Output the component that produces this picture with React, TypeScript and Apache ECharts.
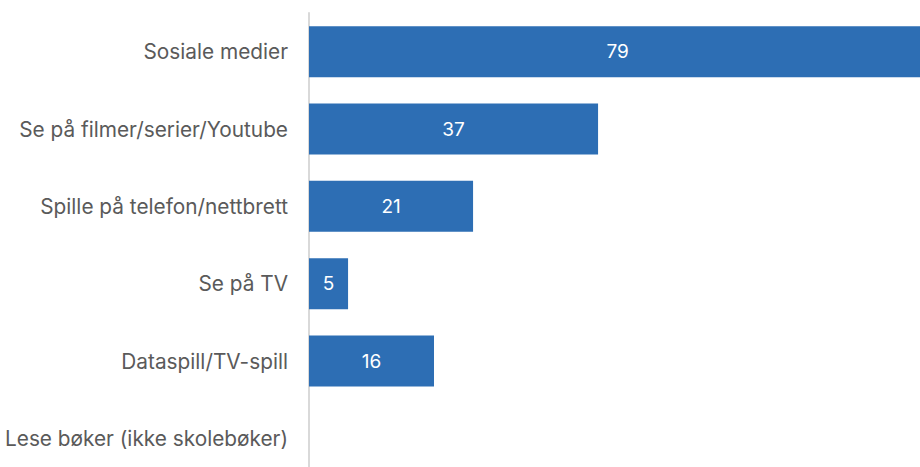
import React, { useEffect, useRef } from "react";
import * as echarts from "echarts";

const categories = [
  "Sosiale medier",
  "Se på filmer/serier/Youtube",
  "Spille på telefon/nettbrett",
  "Se på TV",
  "Dataspill/TV-spill",
  "Lese bøker (ikke skolebøker)",
];
const values = [79, 37, 21, 5, 16, 0];

export default function App() {
  const ref = useRef<HTMLDivElement>(null);
  useEffect(() => {
    if (!ref.current) return;
    const chart = echarts.init(ref.current, undefined, { renderer: "svg" });
    chart.setOption({
      animation: false,
      backgroundColor: "#ffffff",
      grid: {
        left: 309,
        top: 13,
        width: 625,
        height: 464,
        containLabel: false,
        outerBoundsMode: "none",
      },
      xAxis: {
        type: "value",
        min: 0,
        max: 80,
        show: false,
      },
      yAxis: {
        type: "category",
        data: categories,
        inverse: true,
        axisLine: { show: true, lineStyle: { color: "#d9d9d9", width: 2 } },
        axisTick: { show: false },
        axisLabel: {
          color: "#5a5a5a",
          fontSize: 20.8,
          fontFamily: "Inter",
          margin: 21,
        },
      },
      series: [
        {
          type: "bar",
          data: values,
          barWidth: 51,
          itemStyle: { color: "#2D6EB4" },
          label: {
            show: true,
            position: "inside",
            color: "#ffffff",
            fontSize: 19,
            fontFamily: "Inter",
            formatter: (p: any) => (p.value > 0 ? String(p.value) : ""),
          },
        },
      ],
    });
    return () => chart.dispose();
  }, []);
  return (
    <div
      ref={ref}
      style={{ position: "fixed", left: 0, top: 0, width: 920, height: 467 }}
    />
  );
}
